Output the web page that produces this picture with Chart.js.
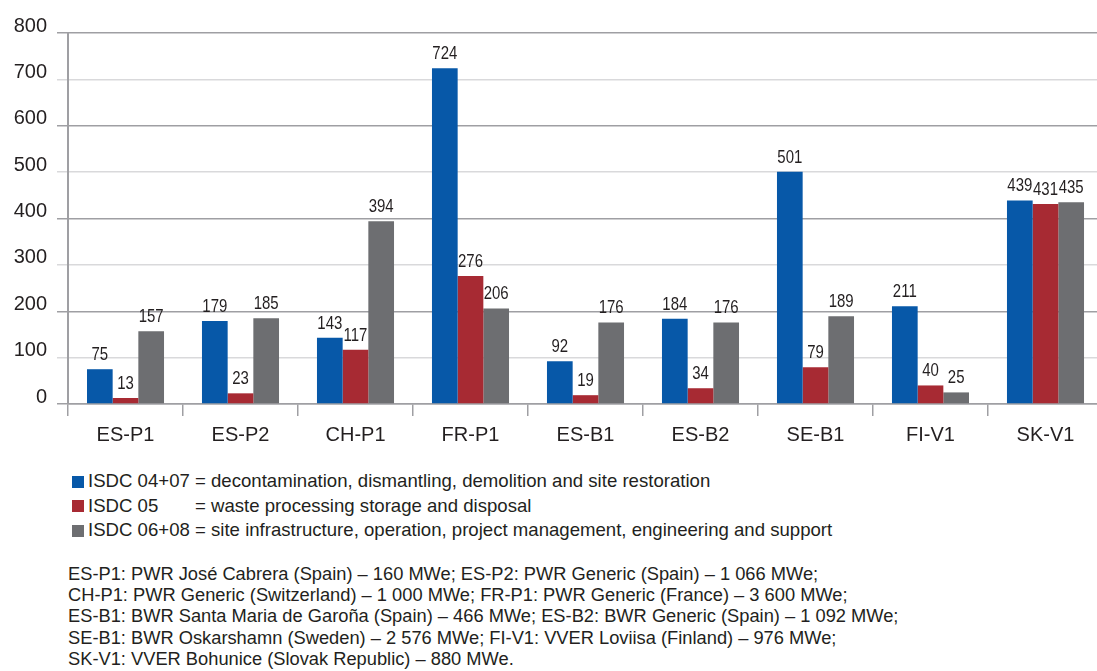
<!DOCTYPE html>
<html>
<head>
<meta charset="utf-8">
<script src="https://cdn.jsdelivr.net/npm/chart.js@4.4.1/dist/chart.umd.min.js"></script>
<style>
  html, body { margin: 0; padding: 0; background: #fff; overflow: hidden; }
  body { width: 1097px; height: 671px; position: relative; font-family: "Liberation Sans", Arial, sans-serif; color: #231f20; }
  #wrap { position: absolute; left: 0; top: 0; width: 1103px; height: 455px; }
  #legend { position: absolute; left: 72px; top: 469px; font-size: 18.6px; line-height: 24.5px; }
  .row { display: flex; align-items: center; white-space: nowrap; }
  .sw { width: 12px; height: 12px; margin-right: 4px; margin-top: 1px; }
  .code { display: inline-block; width: 107px; }
  #notes { position: absolute; left: 68px; top: 563px; font-size: 18.3px; line-height: 21.2px; white-space: nowrap; }
</style>
</head>
<body>
<div id="wrap"><canvas id="c"></canvas></div>
<div id="legend"></div>
<div id="notes">
  ES-P1: PWR José Cabrera (Spain) – 160 MWe; ES-P2: PWR Generic (Spain) – 1 066 MWe;<br>
  CH-P1: PWR Generic (Switzerland) – 1 000 MWe; FR-P1: PWR Generic (France) – 3 600 MWe;<br>
  ES-B1: BWR Santa Maria de Garoña (Spain) – 466 MWe; ES-B2: BWR Generic (Spain) – 1 092 MWe;<br>
  SE-B1: BWR Oskarshamn (Sweden) – 2 576 MWe; FI-V1: VVER Loviisa (Finland) – 976 MWe;<br>
  SK-V1: VVER Bohunice (Slovak Republic) – 880 MWe.
</div>
<script>
// Plants compared
const plants = ['ES-P1', 'ES-P2', 'CH-P1', 'FR-P1', 'ES-B1', 'ES-B2', 'SE-B1', 'FI-V1', 'SK-V1'];

// Cost groups per plant
const isdc0407 = [75, 179, 143, 724, 92, 184, 501, 211, 439];
const isdc05   = [13, 23, 117, 276, 19, 34, 79, 40, 431];
const isdc0608 = [157, 185, 394, 206, 176, 176, 189, 25, 435];

// Legend entries
const seriesCodes = ['ISDC 04+07', 'ISDC 05', 'ISDC 06+08'];
const seriesTexts = [
  '= decontamination, dismantling, demolition and site restoration',
  '= waste processing storage and disposal',
  '= site infrastructure, operation, project management, engineering and support'
];
const seriesColors = ['#0758a8', '#a72a33', '#6d6e71'];

// Value axis
const yMin = 0, yMax = 800, yStep = 100;

const TEXT = '#231f20';
const GRID_MAJOR = '#9f9fa3';
const GRID_MINOR = '#d9d9db';

// Condensed value labels above each bar
const valueLabels = {
  id: 'valueLabels',
  afterDatasetsDraw(chart) {
    const ctx = chart.ctx;
    chart.data.datasets.forEach((ds, i) => {
      chart.getDatasetMeta(i).data.forEach((bar, j) => {
        ctx.save();
        ctx.font = '18.5px "Liberation Sans", Arial, sans-serif';
        ctx.fillStyle = TEXT;
        ctx.textAlign = 'center';
        ctx.textBaseline = 'alphabetic';
        ctx.translate(bar.x, bar.y - 9);
        ctx.scale(0.81, 1);
        ctx.fillText(String(ds.data[j]), 0, 0);
        ctx.restore();
      });
    });
  }
};

const datasets = [isdc0407, isdc05, isdc0608].map((vals, i) => ({
  label: seriesCodes[i],
  data: vals,
  backgroundColor: seriesColors[i],
  borderWidth: 0,
  categoryPercentage: 0.67,
  barPercentage: 1.0
}));

new Chart(document.getElementById('c'), {
  type: 'bar',
  data: { labels: plants, datasets },
  plugins: [valueLabels],
  options: {
    responsive: true,
    maintainAspectRatio: false,
    animation: false,
    layout: { padding: { top: 33, right: 0, bottom: 1, left: 0 } },
    plugins: { legend: { display: false }, tooltip: { enabled: false } },
    scales: {
      x: {
        offset: true,
        afterFit(s) { s.height = 50; },
        grid: { offset: true, drawOnChartArea: false, drawTicks: true, tickLength: 12, color: GRID_MAJOR, lineWidth: 1.5 },
        border: { display: true, color: GRID_MAJOR, width: 1.5 },
        ticks: { color: TEXT, font: { size: 20, family: '"Liberation Sans", Arial, sans-serif' }, padding: 7 }
      },
      y: {
        min: yMin,
        max: yMax,
        afterFit(s) { s.width = 68; },
        grid: {
          tickLength: 11,
          color: (c) => (c.tick && c.tick.value % 200 === 0) ? GRID_MAJOR : GRID_MINOR,
          lineWidth: 1.5
        },
        border: { display: true, color: GRID_MAJOR, width: 2 },
        ticks: { stepSize: yStep, color: TEXT, padding: 10, labelOffset: -7, font: { size: 20, family: '"Liberation Sans", Arial, sans-serif' } }
      }
    }
  }
});

// Legend built from the same series definitions
const legend = document.getElementById('legend');
seriesCodes.forEach((code, i) => {
  const row = document.createElement('div');
  row.className = 'row';
  const sw = document.createElement('span');
  sw.className = 'sw';
  sw.style.background = seriesColors[i];
  const c = document.createElement('span');
  c.className = 'code';
  c.textContent = code;
  const t = document.createElement('span');
  t.textContent = seriesTexts[i];
  row.append(sw, c, t);
  legend.appendChild(row);
});
</script>
</body>
</html>
